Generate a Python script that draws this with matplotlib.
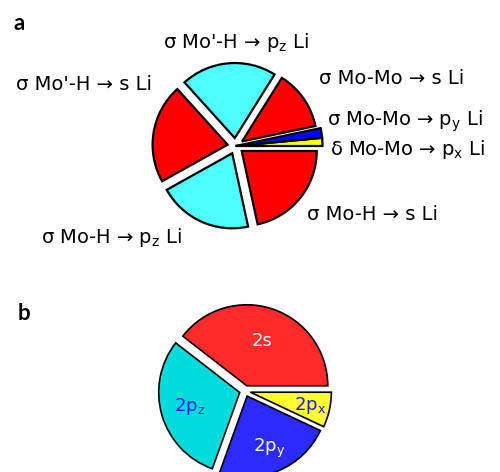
import math
import matplotlib
matplotlib.use("Agg")
import matplotlib.pyplot as plt

plt.rcParams["font.family"] = ["DejaVu Sans"]
plt.rcParams["mathtext.fontset"] = "dejavusans"

# panel a: contributions (share of the pie, %), counterclockwise from 0 deg
a_labels = [
    r"δ Mo-Mo → p$_\mathregular{x}$ Li",
    r"σ Mo-Mo → p$_\mathregular{y}$ Li",
    "σ Mo-Mo → s Li",
    r"σ Mo'-H → p$_\mathregular{z}$ Li",
    "σ Mo'-H → s Li",
    r"σ Mo-H → p$_\mathregular{z}$ Li",
    "σ Mo-H → s Li",
]
a_values = [1.5, 1.8, 12.8, 20.6, 21.4, 20.3, 21.6]
a_colors = ["#ffff00", "#0000ff", "#ff0000", "#4dffff", "#ff0000", "#4dffff", "#ff0000"]

# panel b: Li orbital occupation (%)
b_labels = ["2s", r"2p$_\mathregular{z}$", r"2p$_\mathregular{y}$", r"2p$_\mathregular{x}$"]
b_values = [39.5, 30.0, 23.5, 7.0]
b_colors = ["#ff2b2b", "#00dcdc", "#2b2bff", "#ffff33"]
b_textcolors = ["white", "#1a1aff", "white", "#1a1aff"]

W, H = 500, 472
fig = plt.figure(figsize=(5, 4.72), dpi=100)
ax = fig.add_axes([0, 0, 1, 1])

# pie a
wa, _ = ax.pie(
    a_values,
    colors=a_colors,
    startangle=0,
    counterclock=True,
    center=(235.5, H - 146),
    radius=75,
    explode=[0, 0, 8, 8, 8, 8, 8],
    wedgeprops=dict(edgecolor="black", linewidth=1.6),
)
# the two thin slivers stick out further than the rest
wa[0].set_radius(87)
wa[1].set_radius(87)

a_pos = [(330, 155), (327, 126), (319, 84), (163, 48), (16, 90), (41, 243), (307, 220)]
for txt, (x, y) in zip(a_labels, a_pos):
    ax.text(x, H - y, txt, fontsize=14, ha="left", va="baseline")

# pie b
wb, _ = ax.pie(
    b_values,
    colors=b_colors,
    startangle=0,
    counterclock=True,
    center=(245, H - 391),
    radius=81,
    explode=[5.5, 5.5, 5.5, 5.5],
    wedgeprops=dict(edgecolor="black", linewidth=1.2),
)
# labels inside the wedges, radial position tuned per wedge
b_dist = [0.58, 0.64, 0.70, 0.76]
for w, txt, c, d in zip(wb, b_labels, b_textcolors, b_dist):
    th = math.radians(0.5 * (w.theta1 + w.theta2))
    cx, cy = w.center
    ax.text(cx + d * w.r * math.cos(th), cy + d * w.r * math.sin(th), txt,
            color=c, fontsize=13, ha="center", va="center")

ax.text(13, H - 30, "a", fontsize=16, fontweight="bold", family="Lato")
ax.text(18, H - 320, "b", fontsize=16, fontweight="bold", family="Lato")

ax.set_xlim(0, W)
ax.set_ylim(0, H)
ax.set_aspect("equal")
ax.axis("off")
fig.savefig("out.png", dpi=100)
